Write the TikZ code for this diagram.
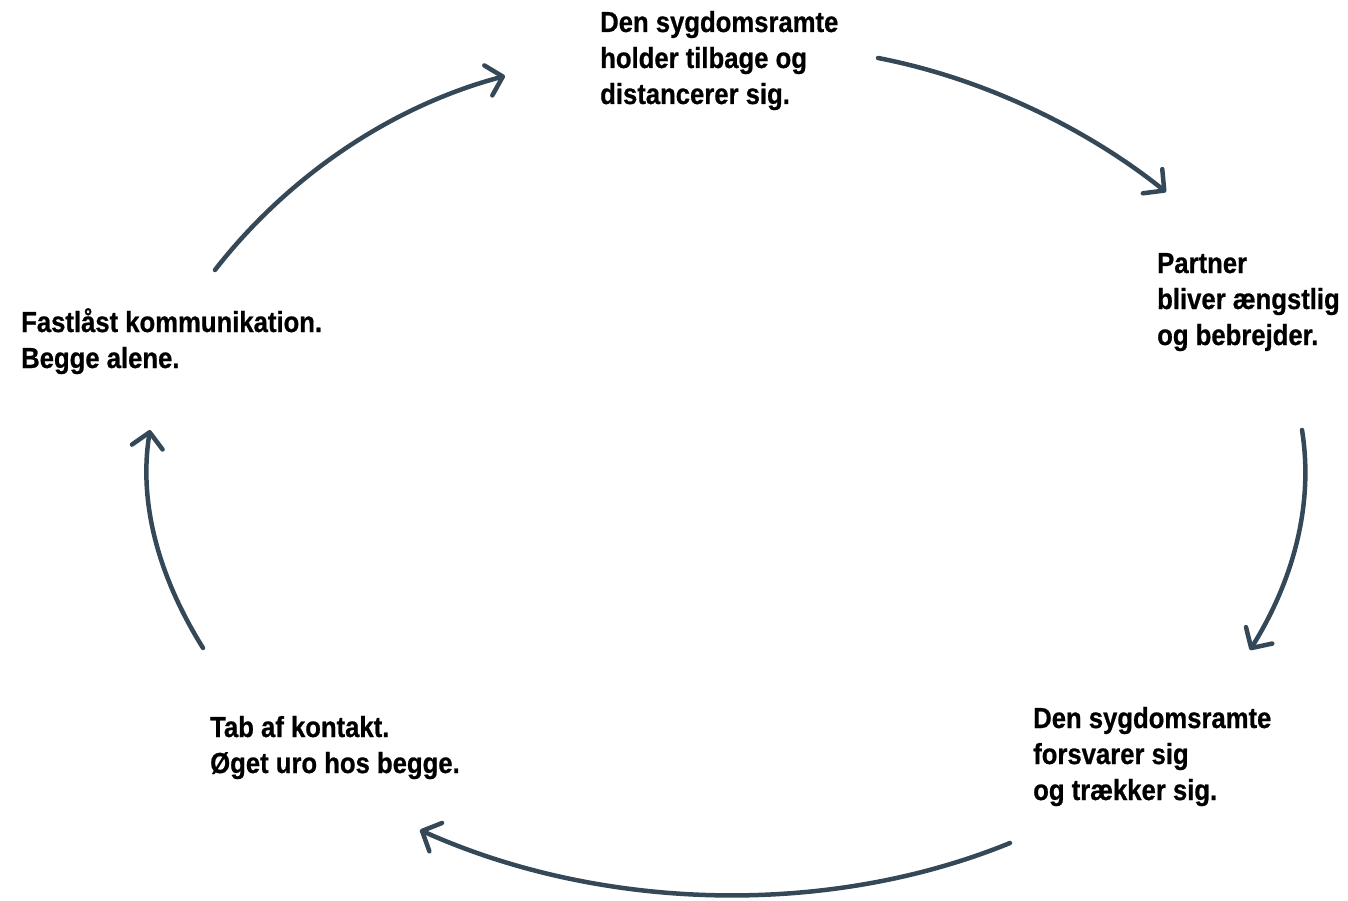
\documentclass[tikz,border=0pt]{standalone}
\usepackage{fontspec}
\setmainfont{Liberation Sans}[FakeStretch=0.885,BoldFeatures={FakeBold=0.7}]
\usetikzlibrary{arrows.meta}
\definecolor{arrowc}{RGB}{52,72,88}
\begin{document}
\begin{tikzpicture}[x=1pt,y=-1pt,
  lbl/.style={anchor=base west, inner sep=0pt, align=left,
    font=\fontsize{29}{36}\selectfont\bfseries, text=black},
  cyc/.style={draw=arrowc, line width=4.5pt, line cap=round, line join=round,
    -{Straight Barb[length=15pt,width=31pt,line cap=round,line join=round]}}]
\useasboundingbox (0,0) rectangle (1348,901);
% labels (anchored at the baseline of the last line)
\node[lbl] (top) at (600,104) {Den sygdomsramte\\holder tilbage og\\distancerer sig.};
\node[lbl] (right) at (1157,345) {Partner\\bliver ængstlig\\og bebrejder.};
\node[lbl] (botright) at (1033,800) {Den sygdomsramte\\forsvarer sig\\og trækker sig.};
\node[lbl] (botleft) at (210,773) {Tab af kontakt.\\Øget uro hos begge.};
\node[lbl] (left) at (21,368) {Fastlåst kommunikation.\\Begge alene.};
% arrow end points
\coordinate (a1s) at (215,270);
\coordinate (a1e) at (505,76);
\coordinate (a2s) at (878,58);
\coordinate (a2e) at (1166,192);
\coordinate (a3s) at (1302,430);
\coordinate (a3e) at (1250,650);
\coordinate (a4s) at (1010,843);
\coordinate (a4e) at (420,830);
\coordinate (a5s) at (203,648);
\coordinate (a5e) at (150,430);
% arrows
\draw[cyc] (a1s) .. controls (280,186) and (381,109) .. (a1e);
\draw[cyc] (a2s) .. controls (987,79) and (1090,131) .. (a2e);
\draw[cyc] (a3s) .. controls (1314,505) and (1293,581) .. (a3e);
\draw[cyc] (a4s) .. controls (826,918) and (600,911) .. (a4e);
\draw[cyc] (a5s) .. controls (160,579) and (138,505) .. (a5e);
\end{tikzpicture}
\end{document}
